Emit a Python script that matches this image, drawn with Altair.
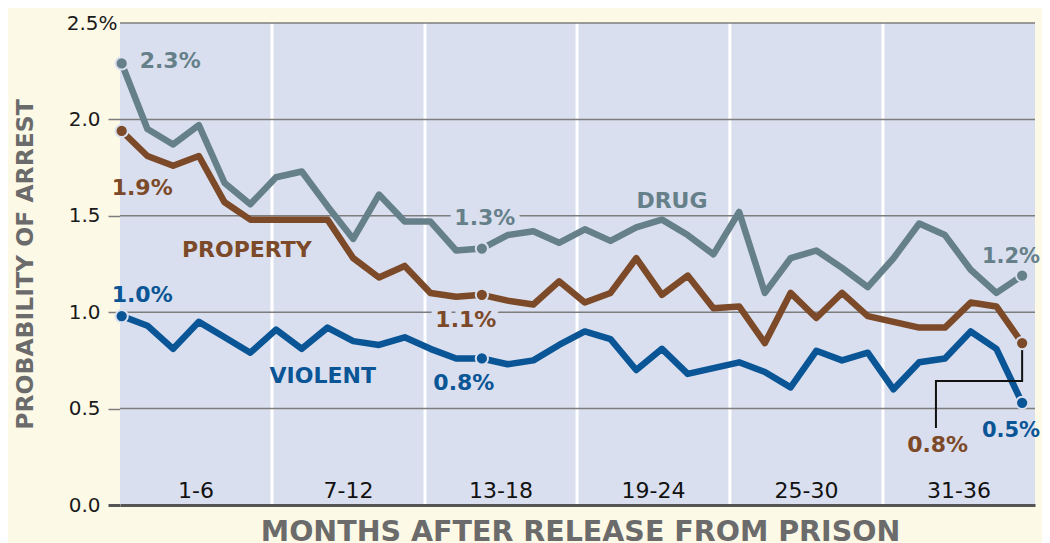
import altair as alt
import pandas as pd

# ---------------- data ----------------
MONTHS = list(range(1, 37))
DRUG = [2.29, 1.95, 1.87, 1.97, 1.67, 1.56, 1.70, 1.73, 1.55, 1.38, 1.61, 1.47,
        1.47, 1.32, 1.33, 1.40, 1.42, 1.36, 1.43, 1.37, 1.44, 1.48, 1.40, 1.30,
        1.52, 1.10, 1.28, 1.32, 1.23, 1.13, 1.28, 1.46, 1.40, 1.22, 1.10, 1.19]
PROPERTY = [1.94, 1.81, 1.76, 1.81, 1.57, 1.48, 1.48, 1.48, 1.48, 1.28, 1.18, 1.24,
            1.10, 1.08, 1.09, 1.06, 1.04, 1.16, 1.05, 1.10, 1.28, 1.09, 1.19, 1.02,
            1.03, 0.84, 1.10, 0.97, 1.10, 0.98, 0.95, 0.92, 0.92, 1.05, 1.03, 0.84]
VIOLENT = [0.98, 0.93, 0.81, 0.95, 0.87, 0.79, 0.91, 0.81, 0.92, 0.85, 0.83, 0.87,
           0.81, 0.76, 0.76, 0.73, 0.75, 0.83, 0.90, 0.86, 0.70, 0.81, 0.68, 0.71,
           0.74, 0.69, 0.61, 0.80, 0.75, 0.79, 0.60, 0.74, 0.76, 0.90, 0.81, 0.53]
SERIES = ["Drug", "Property", "Violent"]
COLORS = ["#66808a", "#7c4a28", "#0a5596"]
MARKED_MONTHS = [1, 15, 36]

BAND_EDGES = [0.934, 6.842, 12.79, 18.70, 24.64, 30.59, 36.5]
BAND_LABELS = ["1-6", "7-12", "13-18", "19-24", "25-30", "31-36"]
Y_TICKS = [0, 0.5, 1.0, 1.5, 2.0, 2.5]
GRID_VALUES = [0.5, 1.0, 1.5, 2.0, 2.5]

LEADER_MONTHS = [36, 36, 32.65, 32.65]
LEADER_VALUES = [PROPERTY[-1], 0.643, 0.643, 0.40]

# ---------------- style ----------------
W, H = 915, 482
LAV = "#d9dfee"
CREAM = "#fdf9e7"
GRID = "#7d7d7d"
AXIS_DARK = "#555555"
TITLE_GRAY = "#6b6b6b"
FONT = "DejaVu Sans"

x_scale = alt.Scale(domain=[BAND_EDGES[0], BAND_EDGES[-1]], nice=False, zero=False)
y_scale = alt.Scale(domain=[0, 2.5], nice=False)

x_axis = alt.Axis(labels=False, ticks=False, grid=False, domain=True,
                  domainColor=AXIS_DARK, domainWidth=3, zindex=1,
                  title="MONTHS AFTER RELEASE FROM PRISON", titleFont=FONT,
                  titleFontSize=28.5, titleFontWeight="bold", titleColor=TITLE_GRAY,
                  titleX=460, titleY=35, titleAlign="center", titleBaseline="alphabetic")

y_axis = alt.Axis(values=Y_TICKS, grid=False, domain=False, tickSize=12,
                  tickColor=alt.condition("datum.value == 0", alt.value(AXIS_DARK), alt.value(GRID)),
                  tickWidth=alt.condition("datum.value == 0", alt.value(3), alt.value(1.5)),
                  tickOpacity=alt.condition("datum.value == 2.5", alt.value(0), alt.value(1)),
                  labelExpr="datum.value == 2.5 ? '2.5%' : format(datum.value, '.1f')",
                  labelPadding=alt.condition("datum.value == 2.5", alt.value(-9), alt.value(8)),
                  labelFont=FONT, labelFontSize=20, labelColor="#1a1a1a",
                  title="PROBABILITY OF ARREST", titleFont=FONT, titleFontSize=23.5,
                  titleFontWeight="bold", titleColor=TITLE_GRAY, titleAngle=270,
                  titleX=-95, titleY=241, titleAlign="center", titleBaseline="middle")

# ---------------- tables ----------------
bands_df = pd.DataFrame({"start": BAND_EDGES[:-1], "end": BAND_EDGES[1:], "label": BAND_LABELS})
bands_df["mid"] = (bands_df["start"] + bands_df["end"]) / 2
seps_df = pd.DataFrame({"e": BAND_EDGES[1:-1]})
grid_df = pd.DataFrame({"v": GRID_VALUES})

long_df = pd.concat([
    pd.DataFrame({"month": MONTHS, "value": vals, "series": name})
    for name, vals in zip(SERIES, [DRUG, PROPERTY, VIOLENT])
], ignore_index=True)
pts_df = long_df[long_df["month"].isin(MARKED_MONTHS)]
leader_df = pd.DataFrame({"month": LEADER_MONTHS, "value": LEADER_VALUES,
                          "i": list(range(len(LEADER_MONTHS)))})

X = lambda f: alt.X(f, type="quantitative", scale=x_scale, axis=x_axis)
Y = lambda f: alt.Y(f, type="quantitative", scale=y_scale, axis=y_axis)
color_scale = alt.Scale(domain=SERIES, range=COLORS)

# ---------------- layers ----------------
bands = alt.Chart(bands_df).mark_rect(color=LAV).encode(
    x=X("start"), x2="end", y=alt.value(0), y2=alt.value(H))

seps = alt.Chart(seps_df).mark_rule(color="white", strokeWidth=3).encode(x=X("e"))

gridlines = alt.Chart(grid_df).mark_rule(color=GRID, strokeWidth=1.5).encode(y=Y("v"))

band_text = alt.Chart(bands_df).mark_text(font=FONT, fontSize=22, color="#111111",
                                          baseline="alphabetic").encode(
    x=X("mid"), y=alt.value(475), text="label:N")

lines = alt.Chart(long_df).mark_line(strokeWidth=6.5, strokeJoin="round", strokeCap="round").encode(
    x=X("month"), y=Y("value"),
    color=alt.Color("series:N", scale=color_scale, legend=None), detail="series:N")

points = alt.Chart(pts_df).mark_point(filled=True, size=150, opacity=1, stroke=LAV,
                                      strokeWidth=2, strokeOpacity=1).encode(
    x=X("month"), y=Y("value"),
    fill=alt.Fill("series:N", scale=color_scale, legend=None))

leader = alt.Chart(leader_df).mark_line(color="#111111", strokeWidth=2, strokeJoin="miter").encode(
    x=X("month"), y=Y("value"), order="i:Q")


def ann(values, month, text, col, dx, dy, size=22, align="center", halo=False):
    df = pd.DataFrame({"month": [month], "value": [values[month - 1]], "t": [text]})
    enc = dict(x=X("month"), y=Y("value"), text="t:N")
    layers = []
    if halo:
        layers.append(alt.Chart(df).mark_text(font=FONT, fontSize=size, fontWeight="bold",
                                              align=align, baseline="alphabetic", dx=dx, dy=dy,
                                              color=LAV, stroke=LAV, strokeWidth=12).encode(**enc))
    layers.append(alt.Chart(df).mark_text(font=FONT, fontSize=size, fontWeight="bold",
                                          align=align, baseline="alphabetic", dx=dx, dy=dy,
                                          color=col).encode(**enc))
    return layers


pct = lambda vals, m: f"{vals[m - 1]:.1f}%"
C_D, C_P, C_V = COLORS

annotations = []
annotations += ann(DRUG, 1, pct(DRUG, 1), C_D, 18, 4.5, align="left")
annotations += ann(PROPERTY, 1, pct(PROPERTY, 1), C_P, -10, 64, align="left")
annotations += ann(VIOLENT, 1, pct(VIOLENT, 1), C_V, -10, -14, align="left")
annotations += ann(DRUG, 15, pct(DRUG, 15), C_D, 3, -23.5, halo=True)
annotations += ann(PROPERTY, 15, pct(PROPERTY, 15), C_P, -16, 32, halo=True)
annotations += ann(VIOLENT, 15, pct(VIOLENT, 15), C_V, -18, 31.5)
annotations += ann(DRUG, 36, pct(DRUG, 36), C_D, 18, -12.5, size=21, align="right")
annotations += ann(VIOLENT, 36, pct(VIOLENT, 36), C_V, 18, 34, size=21, align="right")
annotations += ann(PROPERTY, 36, pct(PROPERTY, 36), C_P, -84.5, 108.5)
annotations += ann(PROPERTY, 6, "PROPERTY", C_P, -3.5, 37)
annotations += ann(VIOLENT, 8, "VIOLENT", C_V, 21, 34)
annotations += ann(DRUG, 22, "DRUG", C_D, 10, -11.5)

chart = alt.layer(
    bands, seps, gridlines, band_text, lines, leader, points, *annotations
).properties(
    width=W, height=H,
    autosize=alt.AutoSizeParams(type="none"),
    padding={"left": 112, "top": 15, "right": 7, "bottom": 38},
    background=CREAM,
).configure_view(stroke=None)

chart.save("out.html", embed_options={"renderer": "svg", "actions": False})
